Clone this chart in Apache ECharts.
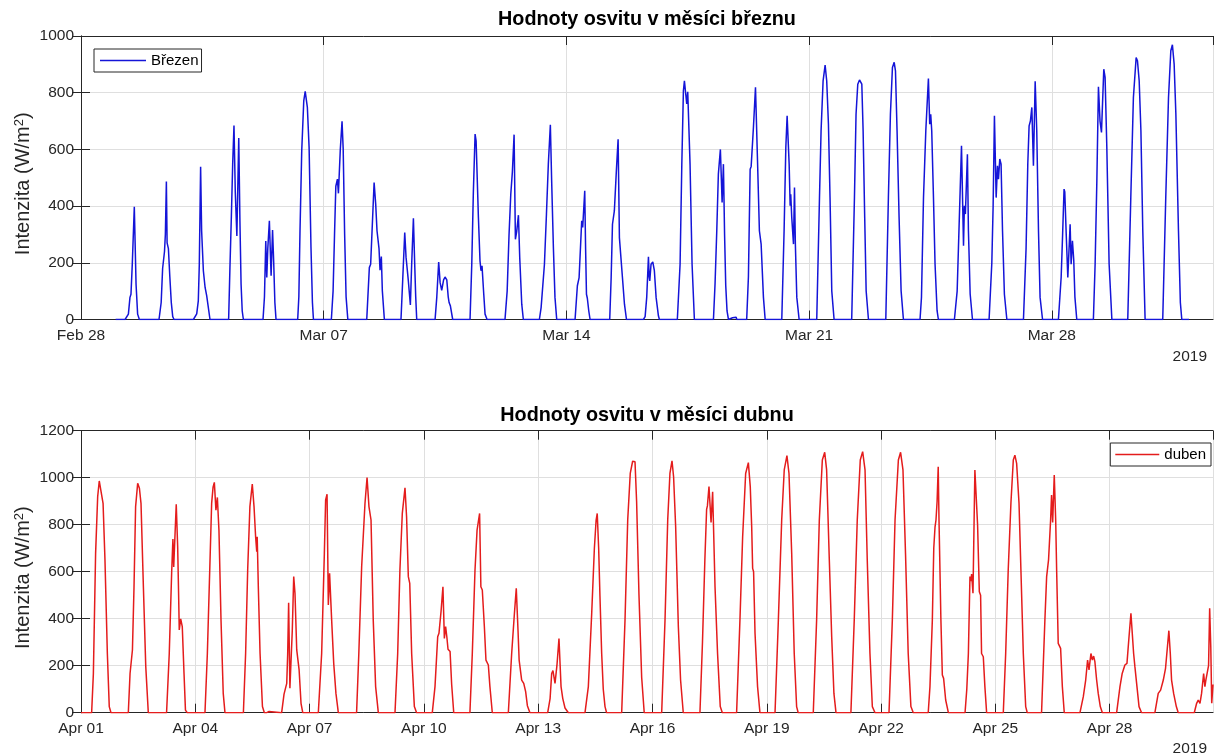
<!DOCTYPE html>
<html><head><meta charset="utf-8">
<script src="https://cdn.jsdelivr.net/npm/echarts@6.0.0/dist/echarts.min.js"></script>
<style>html,body{margin:0;padding:0;background:#fff}#c{width:1219px;height:756px}</style>
</head><body><div id="c"></div>
<script>
// ---- DATA ----
// Each day: list of [hour of day, intensity W/m2] breakpoints.
const marchDays = [
 [[6.5,0],[8.8,19],[9.9,78],[10.6,89],[11.5,195],[12.9,398],[14.1,125],[15.2,19],[16.4,0]],
 [[6.0,0],[7.5,60],[8.5,180],[9.8,240],[10.4,300],[11.1,487],[11.6,270],[12.5,250],[13.5,150],[14.5,60],[15.5,10],[16.4,0]],
 [[5.8,0],[8.1,20],[9.2,66],[9.9,195],[10.8,539],[11.5,313],[12.7,172],[13.9,113],[15,84],[15.9,78],[17.3,0]],
 [[6.2,0],[7.1,183],[8.1,366],[9.0,548],[9.9,684],[10.8,450],[11.9,295],[13.2,640],[14.0,350],[14.8,125],[15.6,30],[16.4,0]],
 [[6.0,0],[7.0,80],[7.9,277],[8.6,148],[9.3,250],[10.4,348],[11.3,200],[11.6,154],[12.6,316],[13.4,200],[14.2,60],[15.0,0]],
 [[6.0,0],[6.8,80],[7.6,313],[8.8,595],[10.2,771],[11.2,805],[11.7,807],[12.7,748],[13.9,607],[15.2,254],[16.2,60],[16.9,0]],
 [[5.3,0],[6.5,100],[7.5,300],[8.4,470],[9.5,495],[10.2,445],[11.5,600],[12.7,699],[13.5,600],[14.5,300],[15.5,80],[16.7,0]],
 [[5.8,0],[7.6,183],[8.5,195],[10.9,483],[12,407],[12.9,313],[14.3,250],[15,174],[15.9,222],[16.6,101],[18,0]],
 [[5.5,0],[6.7,140],[8.1,307],[9,220],[10.6,136],[12,51],[12.9,195],[14.1,357],[15,195],[15.7,80],[16.4,0]],
 [[5.1,0],[6.3,80],[7.6,203],[8.6,130],[9.7,103],[11,140],[12,150],[13.2,140],[14.2,80],[14.8,60],[15.7,48],[17.3,0]],
 [[5.3,0],[6.5,195],[7.6,450],[8.8,654],[9.5,630],[11.1,360],[12.2,207],[12.9,172],[13.6,189],[14.8,89],[15.7,19],[17.1,0]],
 [[5.5,0],[7,100],[8.3,300],[9.5,442],[10.6,520],[11.8,652],[12.7,283],[13.6,310],[14.8,368],[15.7,219],[17.1,54],[18.2,0]],
 [[5.3,0],[6.5,42],[7.4,45],[8.8,195],[10.2,372],[11.5,548],[12.9,687],[13.8,489],[15,254],[16.1,78],[17.3,0]],
 [[6,0],[7.6,119],[8.8,148],[10.6,348],[11.3,325],[12.7,454],[13.3,250],[13.9,89],[14.5,75],[15.5,30],[16.4,0]],
 [[6,0],[7,150],[7.9,336],[9.2,383],[10.6,525],[11.8,636],[12.7,289],[13.6,285],[14.8,148],[16.2,54],[17.6,0]],
 [[5.3,0],[6.5,10],[7.6,78],[8.8,221],[9.3,150],[9.7,136],[10.6,195],[11.8,203],[12.9,172],[14.1,78],[15.7,13],[16.4,0]],
 [[4.8,0],[6.7,195],[7.9,548],[9,807],[9.7,842],[10.4,840],[11.3,760],[12,803],[13.6,548],[15,195],[16.6,0]],
 [[5.8,0],[6.9,125],[8.1,313],[9.2,513],[10.6,600],[11.8,413],[12.7,548],[13.5,300],[14.3,120],[15.2,30],[16.2,0],[19,6],[19.5,0],[21.5,8],[22,0],[23,5],[23.5,0]],
 [[4.8,0],[6,150],[7.2,530],[7.9,540],[9.5,680],[10.9,819],[12.3,560],[13.6,313],[14.8,266],[16.4,78],[17.6,0]],
 [[5.1,0],[6.7,313],[7.9,607],[8.8,719],[10.2,548],[10.9,401],[11.3,442],[12,360],[13.2,266],[13.9,466],[14.5,266],[15.5,78],[17.1,0]],
 [[5.3,0],[7.2,430],[8.3,666],[9.7,842],[11.1,897],[12.2,842],[13.4,689],[14.5,430],[15.7,101],[17.3,0]],
 [[5.5,0],[7.4,430],[8.5,724],[9.7,830],[10.9,845],[12.5,830],[13.4,666],[14.5,360],[15.5,101],[17.1,0]],
 [[5.1,0],[6.9,430],[8.3,724],[9.7,889],[10.9,907],[11.8,877],[12.9,666],[14.3,360],[15.7,101],[17.3,0]],
 [[4.8,0],[5.8,78],[7.2,430],[8.8,666],[10.6,850],[11.5,689],[12.2,724],[12.9,666],[14.1,430],[15.2,195],[16.6,31],[17.5,0]],
 [[4.6,0],[6.5,100],[7.4,254],[9.5,613],[10.9,260],[11.5,401],[12.2,372],[13.6,583],[14.3,313],[15.5,90],[17.1,0]],
 [[4.6,0],[6.5,200],[7.4,400],[8.3,719],[9.5,430],[10.4,542],[11.1,495],[12,566],[12.9,548],[13.9,313],[15.2,89],[16.9,0]],
 [[4.4,0],[6.2,250],[7.4,550],[8.3,683],[9.2,700],[10.2,748],[11.3,542],[12.5,840],[13.6,666],[14.8,313],[15.9,78],[17.6,0]],
 [[4.6,0],[6.5,150],[7.5,300],[8.5,460],[9,450],[10,300],[11.1,148],[12.7,336],[13.4,195],[14.3,278],[15.2,210],[16,80],[17.3,0]],
 [[4.8,0],[6,195],[7.2,489],[8.3,821],[9.4,700],[10.4,660],[12,883],[12.9,854],[14.1,607],[15.7,195],[17.6,0]],
 [[4.6,0],[6.7,430],[8.5,783],[10.4,924],[11.3,913],[12.5,842],[13.7,666],[15,313],[16.6,0]],
 [[4.8,0],[6.9,430],[8.8,783],[10.4,948],[11.5,969],[12.7,901],[13.9,724],[15.7,313],[17,60],[18,0]]
];
const aprilDays = [
 [[6.7,0],[7.8,167],[9.2,678],[10.5,919],[11.5,986],[12.6,983],[13.9,891],[15.1,650],[16.6,252],[17.8,26],[18.9,0]],
 [[5.8,0],[6.9,167],[8.4,267],[9.4,536],[10.4,877],[11.7,976],[12.8,955],[13.8,891],[15.3,536],[16.8,196],[18.4,0]],
 [[5.9,0],[7.6,252],[9.1,593],[9.9,739],[10.4,620],[10.8,614],[12,887],[12.9,706],[13.5,500],[13.9,352],[14.8,399],[15.8,366],[16.9,167],[17.8,11],[18.9,0]],
 [[6.1,0],[7.6,252],[9.1,607],[10.3,891],[11.2,960],[12,980],[13,862],[13.9,916],[14.9,777],[16.2,394],[17.6,82],[18.7,0]],
 [[6.3,0],[7.7,252],[9,607],[10.4,877],[11.9,973],[13,877],[14,749],[14.7,685],[15,749],[15.7,536],[16.8,252],[18.3,26],[19.5,0],[20.5,6],[21,0],[22.5,5],[23,0]],
 [[6.4,0],[7.9,79],[8.9,82],[9.6,125],[10.2,250],[10.8,468],[11.6,104],[12.3,104],[13.1,350],[14,579],[14.8,508],[15.9,267],[17.4,182],[18.6,40],[19.7,0]],
 [[5.5,0],[7.6,252],[9.3,678],[10.1,905],[11,930],[11.8,458],[12.6,593],[13.9,394],[15.2,210],[16.6,82],[18.1,0]],
 [[5.6,0],[7,250],[8.8,621],[10.9,891],[12.2,1001],[13.4,877],[14.7,820],[16.1,394],[17.6,111],[19.3,0]],
 [[5.8,0],[7.5,252],[8.9,607],[10.4,848],[12.1,957],[13.1,834],[14.2,579],[15.1,550],[16.3,252],[18,26],[19.4,0]],
 [[5.3,0],[7,111],[8.7,323],[9.5,338],[10.8,430],[12,536],[12.9,316],[13.7,366],[14.5,320],[15.2,270],[16.5,260],[17.5,120],[18.8,0]],
 [[5,0],[6.5,252],[8.2,607],[9.5,777],[11.1,848],[11.9,536],[12.8,522],[14.1,366],[15.1,224],[16.6,203],[17.6,111],[19.1,0]],
 [[5.2,0],[7.3,252],[9,420],[10.2,529],[11.3,350],[12,224],[13.6,139],[14.9,125],[15.5,120],[16.1,90],[17.2,30],[18.8,0]],
 [[6,0],[7.5,60],[8.5,167],[9.3,179],[10.6,125],[11.8,200],[13.1,316],[14.4,111],[15.5,60],[16.9,20],[19,0]],
 [[5.5,0],[7.6,111],[9.7,420],[11.4,700],[12.5,820],[13.2,848],[14.1,700],[14.9,500],[16,252],[17,100],[18.1,26],[19.1,0]],
 [[4.6,0],[6.7,394],[8.4,820],[10,1018],[11.5,1070],[12.3,1078],[13,1068],[14,900],[15.5,500],[17.2,150],[18.8,0]],
 [[5.8,0],[7.9,394],[9.6,820],[11,1018],[12.3,1072],[13.3,1004],[14.6,791],[16.3,366],[17.7,139],[19.4,0]],
 [[5.9,0],[7.5,300],[9,650],[10.1,865],[10.6,880],[11.6,962],[12.9,810],[13.9,940],[15.4,536],[17,252],[18.7,26],[20,0]],
 [[5,0],[7.1,394],[8.8,749],[10.7,1018],[12.4,1064],[13.6,962],[14.5,791],[15.1,614],[15.7,600],[16.6,338],[18.2,111],[19.7,0]],
 [[5.2,0],[7.3,394],[9.4,820],[11,1033],[12.7,1094],[14,1018],[15.7,678],[17.3,252],[18.8,26],[19.8,0]],
 [[5.3,0],[7.4,394],[9.1,820],[11,1075],[12.5,1108],[13.7,1033],[15.4,650],[16.9,323],[18.3,82],[19.6,0]],
 [[5,0],[7.1,394],[9,820],[10.9,1075],[12.4,1111],[13.9,1033],[15.3,650],[17,252],[18.5,26],[20.2,0]],
 [[5,0],[7.1,394],[8.8,820],[10.9,1075],[12.3,1108],[13.8,1033],[15.4,678],[17.1,252],[18.8,26],[20.3,0]],
 [[5.7,0],[6.8,111],[8.3,394],[9.2,700],[10,791],[10.6,820],[11.3,900],[12,1047],[12.5,820],[13.7,394],[14.6,160],[15.4,146],[16.7,54],[18.4,0]],
 [[4.9,0],[6,100],[7,252],[8,579],[8.6,560],[9.05,590],[9.9,508],[11.1,1033],[11.8,1025],[12.8,800],[13.9,515],[14.7,500],[15.3,252],[16.4,238],[17.4,111],[18.5,0]],
 [[5,0],[6.5,252],[8.1,607],[9.8,891],[11.3,1075],[12.3,1096],[13.4,1061],[14.9,891],[16.1,607],[17.6,252],[19.1,26],[20.1,0]],
 [[5.1,0],[7.2,394],[8.3,579],[9.5,650],[10.8,820],[11.4,926],[12.1,810],[13.1,1011],[14,820],[14.6,607],[15.6,295],[17.1,274],[18.2,111],[19.4,0]],
 [[5.3,0],[7.4,68],[8.9,139],[10.1,224],[11,182],[12.2,252],[13.1,224],[13.9,241],[14.7,217],[15.8,139],[16.8,82],[18.1,26],[19.4,0]],
 [[4.4,0],[6.5,111],[7.9,167],[9.6,203],[10.9,210],[12.2,323],[13.4,423],[14.3,416],[15.1,252],[15.9,196],[17.2,111],[18.5,26],[20.1,0]],
 [[4.5,0],[6.6,82],[8.1,96],[9.8,139],[11.2,189],[12.3,196],[13.3,349],[14.2,252],[15,139],[16.3,82],[18,26],[19.2,0]],
 [[5.3,0],[6.8,40],[7.8,54],[8.9,40],[9.9,82],[11.2,167],[12,111],[12.6,139],[13.5,139],[14.3,200],[15,444],[15.7,281],[16.3,40],[16.9,100],[17.1,120]]
];
const marchTickLabels = ['Feb 28','Mar 07','Mar 14','Mar 21','Mar 28'];
const aprilTickLabels = ['Apr 01','Apr 04','Apr 07','Apr 10','Apr 13','Apr 16','Apr 19','Apr 22','Apr 25','Apr 28'];
const marchTickStep = 7, aprilTickStep = 3;      // days between ticks
const marchAxisEnd = 32.65;                        // days after Feb 28 00:00
const aprilAxisEnd = 29 + 17.1/24;                 // days after Apr 01 00:00
const marchDataEnd = 31 + 23/24;
const marchYTicks = [0,200,400,600,800,1000];
const aprilYTicks = [0,200,400,600,800,1000,1200];

// ---- BUILD ----
function buildSeries(days, firstDay, startX, endX) {
  const pts = [[startX, 0]];
  days.forEach((prof, i) => prof.forEach(p => pts.push([firstDay + i + p[0] / 24, p[1]])));
  if (endX != null) pts.push([endX, 0]);
  return pts;
}
const marchData = buildSeries(marchDays, 1, 1, marchDataEnd);
const aprilData = buildSeries(aprilDays, 0, 0, null);

const FONT = '"Liberation Sans", Arial, Helvetica, sans-serif';
const AX = '#262626';
const GRIDC = '#dfdfdf';

function xPair(gridIndex, max, step, labels) {
  const common = {type: 'value', gridIndex, min: 0, max, interval: step,
    axisLine: {show: true, onZero: false, lineStyle: {color: AX, width: 1}},
    axisTick: {show: true, inside: true, length: 9, lineStyle: {color: AX}}};
  return [
    Object.assign({}, common, {position: 'bottom',
      axisLabel: {show: true, margin: 8, fontSize: 15.5, color: AX, fontFamily: FONT, showMaxLabel: false,
        formatter: v => { const i = Math.round(v / step); return Math.abs(v - i * step) < 1e-6 ? (labels[i] || '') : ''; }},
      splitLine: {show: true, lineStyle: {color: GRIDC, width: 1}}}),
    Object.assign({}, common, {position: 'top', axisLabel: {show: false}, splitLine: {show: false}})
  ];
}
function yPair(gridIndex, ticks) {
  const max = ticks[ticks.length - 1];
  const common = {type: 'value', gridIndex, min: 0, max, interval: ticks[1] - ticks[0],
    axisLine: {show: true, lineStyle: {color: AX, width: 1}},
    axisTick: {show: true, inside: true, length: 9, lineStyle: {color: AX}}};
  return [
    Object.assign({}, common, {position: 'left',
      name: 'Intenzita (W/m{sup|2})', nameLocation: 'middle', nameGap: 48, nameRotate: 90, nameMoveOverlap: false,
      nameTextStyle: {fontSize: 20, color: AX, fontFamily: FONT, padding: [0, 12, 0, 0],
        rich: {sup: {fontSize: 13, color: AX, fontFamily: FONT, verticalAlign: 'top', padding: [0, 0, 6, 0]}}},
      axisLabel: {show: true, margin: 7, fontSize: 15.5, color: AX, fontFamily: FONT, formatter: v => String(v)},
      splitLine: {show: true, lineStyle: {color: GRIDC, width: 1}}}),
    Object.assign({}, common, {position: 'right', axisLabel: {show: false}, splitLine: {show: false}})
  ];
}

const chart = echarts.init(document.getElementById('c'), null, {renderer: 'canvas'});
chart.setOption({
  animation: false,
  backgroundColor: '#ffffff',
  grid: [
    {left: 81, right: 6, top: 36, height: 283.5},
    {left: 81, right: 6, top: 430.7, height: 282}
  ],
  xAxis: [].concat(xPair(0, marchAxisEnd, marchTickStep, marchTickLabels), xPair(1, aprilAxisEnd, aprilTickStep, aprilTickLabels)),
  yAxis: [].concat(yPair(0, marchYTicks), yPair(1, aprilYTicks)),
  legend: [
    {data: ['Březen'], left: 94, top: 49, padding: [4, 3, 4, 6], itemWidth: 46, itemHeight: 1.6, icon: 'rect',
      backgroundColor: '#fff', borderColor: AX, borderWidth: 1, borderRadius: 0,
      textStyle: {fontSize: 15, lineHeight: 15, color: '#000', fontFamily: FONT}},
    {data: ['duben'], right: 8, top: 443, padding: [4, 5, 4, 5], itemWidth: 44, itemHeight: 1.6, icon: 'rect',
      backgroundColor: '#fff', borderColor: AX, borderWidth: 1, borderRadius: 0,
      textStyle: {fontSize: 15, lineHeight: 15, color: '#000', fontFamily: FONT}}
  ],
  graphic: [
    {type: 'text', x: 647, y: 20, style: {text: 'Hodnoty osvitu v měsíci březnu', font: 'bold 19.8px ' + FONT, fill: '#000', textAlign: 'center', textVerticalAlign: 'middle'}},
    {type: 'text', x: 647, y: 416, style: {text: 'Hodnoty osvitu v měsíci dubnu', font: 'bold 19.8px ' + FONT, fill: '#000', textAlign: 'center', textVerticalAlign: 'middle'}},
    {type: 'text', x: 1207, y: 357, style: {text: '2019', font: '15.5px ' + FONT, fill: AX, textAlign: 'right', textVerticalAlign: 'middle'}},
    {type: 'text', x: 1207, y: 749, style: {text: '2019', font: '15.5px ' + FONT, fill: AX, textAlign: 'right', textVerticalAlign: 'middle'}}
  ],
  series: [
    {name: 'Březen', type: 'line', xAxisIndex: 0, yAxisIndex: 0, data: marchData, showSymbol: false, symbol: 'none',
      lineStyle: {color: '#1414d8', width: 1.5}, itemStyle: {color: '#1414d8'}, clip: true},
    {name: 'duben', type: 'line', xAxisIndex: 2, yAxisIndex: 2, data: aprilData, showSymbol: false, symbol: 'none',
      lineStyle: {color: '#e41c1c', width: 1.5}, itemStyle: {color: '#e41c1c'}, clip: true}
  ]
});
</script></body></html>
